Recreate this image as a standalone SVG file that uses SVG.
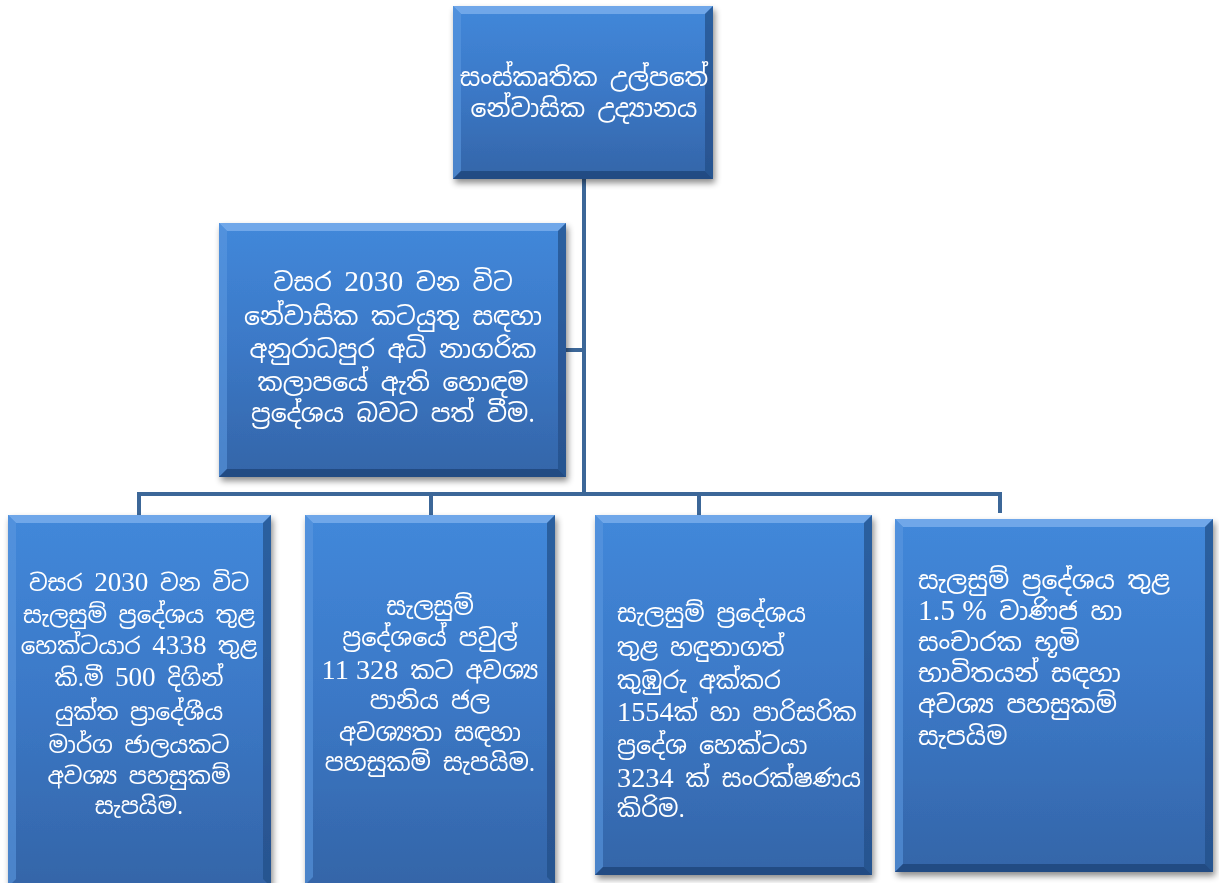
<svg xmlns="http://www.w3.org/2000/svg" width="1219" height="883" viewBox="0 0 1219 883">
<defs>
<linearGradient id="face" x1="0" y1="0" x2="0" y2="1">
<stop offset="0" stop-color="#4288da"/>
<stop offset="0.5" stop-color="#3b78c6"/>
<stop offset="1" stop-color="#3465a8"/>
</linearGradient>
<filter id="sh" x="-10%" y="-10%" width="125%" height="125%">
<feDropShadow dx="2" dy="4" stdDeviation="3" flood-color="#000" flood-opacity="0.45"/>
</filter>
<style>
.face{fill:url(#face)}
.bt{fill:#7fb2ee;opacity:0.75}
.bl{fill:#5c97e0;opacity:0.6}
.br{fill:#234d86;opacity:0.7}
.bb{fill:#1f4477;opacity:0.75}
.con{fill:none;stroke:#3c6798;stroke-width:4}
.t{font-family:"Iskoola Pota","Noto Sans Sinhala","Noto Serif Sinhala","Liberation Serif",serif;font-size:24px;fill:#ffffff}
.s25{font-size:25px}
.s23{font-size:23px}
.c{text-anchor:middle}
.n{font-family:"Liberation Serif",serif;font-size:118%}
</style>
</defs>
<g id="connectors">
<path class="con" d="M584,179 V494"/>
<path class="con" d="M566,350 H584"/>
<path class="con" d="M139,515 V494 H1000 V513"/>
<path class="con" d="M431,494 V515"/>
<path class="con" d="M699,494 V515"/>
</g>
<g id="node-top" filter="url(#sh)">
<rect class="face" x="453" y="6" width="260" height="173"/>
<polygon class="bt" points="453,6 713,6 705,14 461,14"/>
<polygon class="bl" points="453,6 461,14 461,171 453,179"/>
<polygon class="br" points="713,6 713,179 705,171 705,14"/>
<polygon class="bb" points="453,179 461,171 705,171 713,179"/>
<text class="t s25 c" x="584" y="86">සංස්කෘතික උල්පතේ</text>
<text class="t s25 c" x="584" y="117">නේවාසික උද්‍යානය</text>
</g>
<g id="node-mid" filter="url(#sh)">
<rect class="face" x="219" y="223" width="347" height="254"/>
<polygon class="bt" points="219,223 566,223 558,231 227,231"/>
<polygon class="bl" points="219,223 227,231 227,469 219,477"/>
<polygon class="br" points="566,223 566,477 558,469 558,231"/>
<polygon class="bb" points="219,477 227,469 558,469 566,477"/>
<text class="t s25 c" x="393" y="291">වසර <tspan class="n">2030</tspan> වන විට</text>
<text class="t s25 c" x="393" y="325">නේවාසික කටයුතු සඳහා</text>
<text class="t s25 c" x="393" y="358">අනුරාධපුර අධි නාගරික</text>
<text class="t s25 c" x="393" y="391">කලාපයේ ඇති හොඳම</text>
<text class="t s25 c" x="393" y="422">ප්‍රදේශය බවට පත් වීම.</text>
</g>
<g id="node-b1" filter="url(#sh)">
<rect class="face" x="8" y="515" width="263" height="372"/>
<polygon class="bt" points="8,515 271,515 263,523 16,523"/>
<polygon class="bl" points="8,515 16,523 16,879 8,887"/>
<polygon class="br" points="271,515 271,887 263,879 263,523"/>
<text class="t s23 c" x="139" y="591">වසර <tspan class="n">2030</tspan> වන විට</text>
<text class="t s23 c" x="139" y="623">සැලසුම් ප්‍රදේශය තුළ</text>
<text class="t s23 c" x="139" y="654">හෙක්ටයාර <tspan class="n">4338</tspan> තුළ</text>
<text class="t s23 c" x="139" y="686">කි.මී <tspan class="n">500</tspan> දිගින්</text>
<text class="t s23 c" x="139" y="720">යුක්ත ප්‍රාදේශීය</text>
<text class="t s23 c" x="139" y="753">මාර්ග ජාලයකට</text>
<text class="t s23 c" x="139" y="784">අවශ්‍ය පහසුකම්</text>
<text class="t s23 c" x="139" y="814">සැපයිම.</text>
</g>
<g id="node-b2" filter="url(#sh)">
<rect class="face" x="305" y="515" width="250" height="370"/>
<polygon class="bt" points="305,515 555,515 547,523 313,523"/>
<polygon class="bl" points="305,515 313,523 313,877 305,885"/>
<polygon class="br" points="555,515 555,885 547,877 547,523"/>
<text class="t c" x="430" y="615">සැලසුම්</text>
<text class="t c" x="430" y="646">ප්‍රදේශයේ පවුල්</text>
<text class="t c" x="430" y="679"><tspan class="n">11 328</tspan> කට අවශ්‍ය</text>
<text class="t c" x="430" y="709">පානිය ජල</text>
<text class="t c" x="430" y="741">අවශ්‍යතා සඳහා</text>
<text class="t c" x="430" y="771">පහසුකම් සැපයිම.</text>
</g>
<g id="node-b3" filter="url(#sh)">
<rect class="face" x="595" y="515" width="277" height="360"/>
<polygon class="bt" points="595,515 872,515 864,523 603,523"/>
<polygon class="bl" points="595,515 603,523 603,867 595,875"/>
<polygon class="br" points="872,515 872,875 864,867 864,523"/>
<polygon class="bb" points="595,875 603,867 864,867 872,875"/>
<text class="t" x="617" y="622">සැලසුම් ප්‍රදේශය</text>
<text class="t" x="617" y="656">තුළ හඳුනාගත්</text>
<text class="t" x="617" y="689">කුඹුරු අක්කර</text>
<text class="t" x="617" y="721"><tspan class="n">1554</tspan>ක් හා පාරිසරික</text>
<text class="t" x="617" y="754">ප්‍රදේශ හෙක්ටයා</text>
<text class="t" x="617" y="787"><tspan class="n">3234</tspan> ක් සංරක්ෂණය</text>
<text class="t" x="617" y="817">කිරිම.</text>
</g>
<g id="node-b4" filter="url(#sh)">
<rect class="face" x="895" y="519" width="318" height="353"/>
<polygon class="bt" points="895,519 1213,519 1205,527 903,527"/>
<polygon class="bl" points="895,519 903,527 903,864 895,872"/>
<polygon class="br" points="1213,519 1213,872 1205,864 1205,527"/>
<polygon class="bb" points="895,872 903,864 1205,864 1213,872"/>
<text class="t s25" x="918" y="589">සැලසුම් ප්‍රදේශය තුළ</text>
<text class="t s25" x="918" y="620"><tspan class="n">1.5 %</tspan> වාණිජ හා</text>
<text class="t s25" x="918" y="651">සංචාරක භූමි</text>
<text class="t s25" x="918" y="682">භාවිතයන් සඳහා</text>
<text class="t s25" x="918" y="713">අවශ්‍ය පහසුකම්</text>
<text class="t s25" x="918" y="745">සැපයිම</text>
</g>
</svg>
